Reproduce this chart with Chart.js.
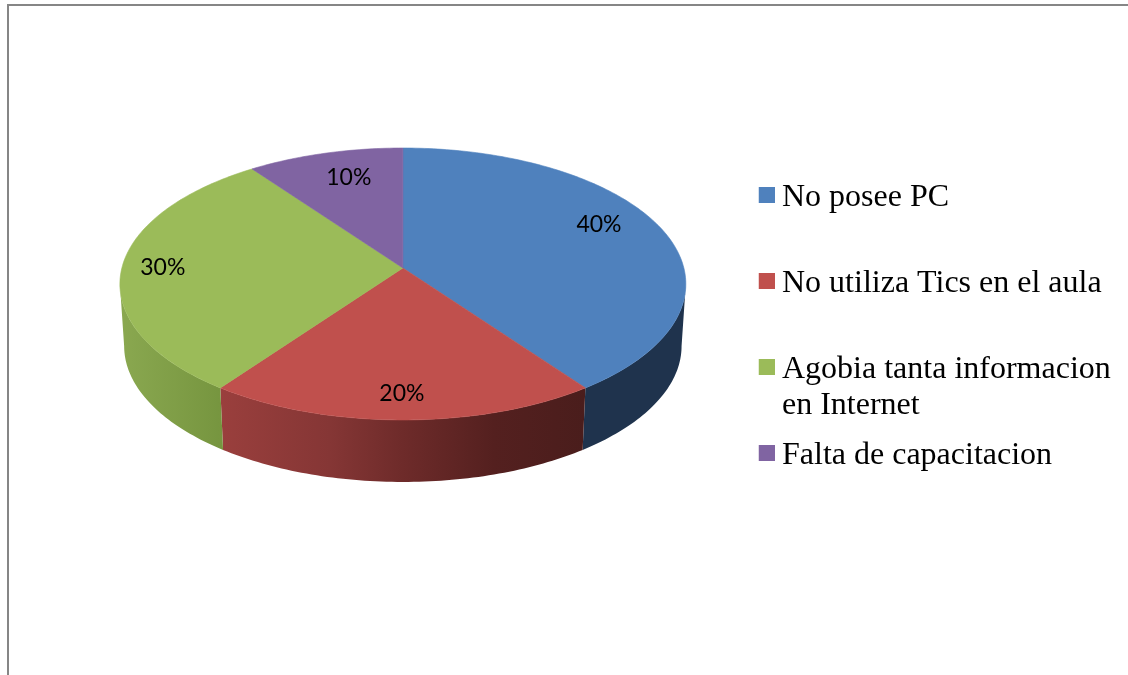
<!DOCTYPE html>
<html><head><meta charset="utf-8">
<style>
html,body{margin:0;padding:0;background:#fff;overflow:hidden}
#wrap{position:relative;width:1128px;height:675px}
canvas{position:absolute;left:0;top:0}
.fr{position:absolute;background:#868686}
</style>
<script src="https://cdn.jsdelivr.net/npm/chart.js@4/dist/chart.umd.min.js"></script>
</head><body>
<div id="wrap">
<div class="fr" style="left:7px;top:4px;width:1121px;height:2px"></div>
<div class="fr" style="left:7px;top:4px;width:2px;height:671px"></div>
<canvas id="c" width="1128" height="675"></canvas>
</div>
<script>
const categories = ["No posee PC","No utiliza Tics en el aula","Agobia tanta informacion en Internet","Falta de capacitacion"];
const legendLines = [["No posee PC",""],["No utiliza Tics en el aula",""],["Agobia tanta informacion","en Internet"],["Falta de capacitacion",""]];
const values = [40,20,30,10];
const percentLabels = ["40%","20%","30%","10%"];
const topColors = ["#4f81bd","#c0504d","#9bbb59","#8064a2"];

// view geometry of the tilted disc
const RX = 281, RY = 134.1, PERSP = 0.1176, DEPTH = 62, SHRINK = 0.985;
const labelRadius = [0.75,0.85,0.858,0.75];
const labelNudge = [[1,-13],[-1,-1],[1,0],[6,-2]];
const wallStops = [
  [[0,"#1f334d"],[1,"#1f334d"]],
  [[0,"#9a3f3d"],[0.3,"#853635"],[0.5,"#6e2b2a"],[0.75,"#54201f"],[1,"#4a1d1c"]],
  [[0,"#8aa850"],[1,"#76953f"]],
  [[0,"#5f4a7a"],[1,"#5f4a7a"]]
];

function proj(cx,cy,phi,r){
  const u=Math.cos(phi)*r, v=Math.sin(phi)*r, w=1-PERSP*v;
  return [cx+RX*u/w, cy+RY*v/w];
}
function base(cx,cy,phi){
  const p=proj(cx,cy,phi,1);
  return [cx+(p[0]-cx)*SHRINK, p[1]+DEPTH];
}
function swatch(color){
  const s=document.createElement('canvas'); s.width=20; s.height=22;
  const c=s.getContext('2d'); c.fillStyle=color; c.fillRect(4,0,16,16);
  return s;
}
const swatches = topColors.map(swatch);
const disc3d = {
  id:'disc3d',
  afterLayout(chart){
    const lg=chart.legend;
    const w=lg.right-lg.left, h=lg.bottom-lg.top;
    lg.left=749.5; lg.right=749.5+w; lg.top=168; lg.bottom=168+h;
    if(lg.adjustHitBoxes) lg.adjustHitBoxes();
  },
  beforeDatasetDraw(chart,args){
    const ctx=chart.ctx, arcs=chart.getDatasetMeta(args.index).data;
    const STEP=Math.PI/180;
    // rim walls, between the two silhouette angles of the projected disc
    const edge=Math.asin(PERSP);
    arcs.forEach((a,i)=>{
      const from=Math.max(a.startAngle,edge), to=Math.min(a.endAngle,Math.PI-edge);
      if(to<=from) return;
      const n=Math.ceil((to-from)/STEP);
      const at=k=>from+(to-from)*k/n;
      const xs=[];
      ctx.beginPath();
      for(let k=0;k<=n;k++){const p=proj(a.x,a.y,at(k),1);xs.push(p[0]);k?ctx.lineTo(p[0],p[1]):ctx.moveTo(p[0],p[1]);}
      for(let k=n;k>=0;k--){const q=base(a.x,a.y,at(k));xs.push(q[0]);ctx.lineTo(q[0],q[1]);}
      ctx.closePath();
      const g=ctx.createLinearGradient(Math.min(...xs),0,Math.max(...xs),0);
      wallStops[i].forEach(c=>g.addColorStop(c[0],c[1]));
      ctx.fillStyle=g; ctx.fill();
    });
    // top faces
    arcs.forEach((a,i)=>{
      const n=Math.ceil((a.endAngle-a.startAngle)/STEP);
      ctx.beginPath(); ctx.moveTo(a.x,a.y);
      for(let k=0;k<=n;k++){const p=proj(a.x,a.y,a.startAngle+(a.endAngle-a.startAngle)*k/n,1);ctx.lineTo(p[0],p[1]);}
      ctx.closePath();
      ctx.fillStyle=a.options.backgroundColor; ctx.fill();
      ctx.strokeStyle=a.options.backgroundColor; ctx.lineWidth=0.6; ctx.stroke();
    });
    // value labels
    ctx.save();
    ctx.font='23px Lato'; ctx.fillStyle='#000'; ctx.textAlign='center'; ctx.textBaseline='middle';
    arcs.forEach((a,i)=>{
      const p=proj(a.x,a.y,(a.startAngle+a.endAngle)/2,labelRadius[i]);
      ctx.fillText(percentLabels[i],p[0]+labelNudge[i][0],p[1]+labelNudge[i][1]);
    });
    ctx.restore();
    return false;
  }
};
new Chart(document.getElementById('c'),{
  type:'pie',
  data:{labels:categories,datasets:[{data:values,backgroundColor:topColors,borderWidth:0}]},
  plugins:[disc3d],
  options:{
    responsive:false,animation:false,
    layout:{padding:{left:49,top:0,bottom:139,right:0}},
    plugins:{
      tooltip:{enabled:false},
      legend:{
        position:'right',align:'start',
        labels:{
          usePointStyle:true,pointStyleWidth:2.5,boxHeight:16,padding:14,color:'#000',
          font:{family:'"Liberation Serif"',size:32,lineHeight:36/32},
          generateLabels(chart){
            return legendLines.map((t,i)=>({text:t,pointStyle:swatches[i],fillStyle:topColors[i],strokeStyle:topColors[i],lineWidth:0,index:i,hidden:false}));
          }
        }
      }
    }
  }
});
</script>
</body></html>
